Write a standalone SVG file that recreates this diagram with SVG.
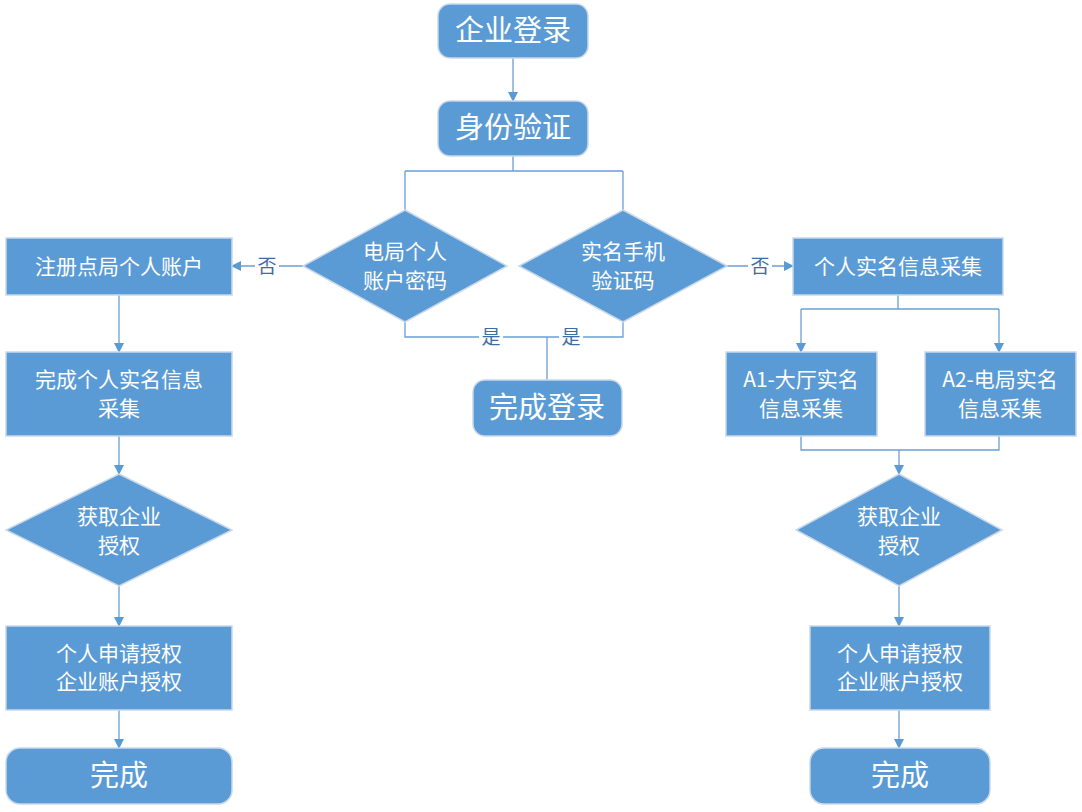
<svg xmlns="http://www.w3.org/2000/svg" width="1082" height="812" viewBox="0 0 1082 812">
<defs>
<style>
.n{fill:#5b9bd5;stroke:#c9d8ea;stroke-width:1.5}
.t{fill:#fff;font-family:"Microsoft YaHei","Noto Sans CJK SC",sans-serif;font-size:21px;text-anchor:middle}
.b{fill:#fff;font-family:"Noto Sans CJK SC",sans-serif;font-size:29px;text-anchor:middle}
.l{fill:#3b6ea5;font-family:"Noto Sans CJK SC",sans-serif;font-size:19px;text-anchor:middle}
.c{fill:none;stroke:#6a9fd6;stroke-width:1.3}
</style>
<marker id="a" markerWidth="10" markerHeight="10" refX="9" refY="5" orient="auto" markerUnits="userSpaceOnUse"><path d="M0,0 L10,5 L0,10 Z" fill="#5b9bd5"/></marker>
</defs>
<rect width="1082" height="812" fill="#fff"/>
<g id="connectors">
<path class="c" d="M513,58 V101" marker-end="url(#a)"/>
<path class="c" d="M513,156 V171 M405,171 H623 M405,171 V210 M623,171 V210"/>
<path class="c" d="M405,322 V337 H623 V322 M547,337 V380"/>
<path class="c" d="M303,266 H232" marker-end="url(#a)"/>
<path class="c" d="M727,266 H793" marker-end="url(#a)"/>
<path class="c" d="M119,295 V352" marker-end="url(#a)"/>
<path class="c" d="M119,436 V474" marker-end="url(#a)"/>
<path class="c" d="M119,586 V626" marker-end="url(#a)"/>
<path class="c" d="M119,710 V748" marker-end="url(#a)"/>
<path class="c" d="M898,295 V309 M801,309 H999"/>
<path class="c" d="M801,309 V352" marker-end="url(#a)"/>
<path class="c" d="M999,309 V352" marker-end="url(#a)"/>
<path class="c" d="M801,436 V450 H999 V436"/>
<path class="c" d="M899,450 V474" marker-end="url(#a)"/>
<path class="c" d="M899,586 V626" marker-end="url(#a)"/>
<path class="c" d="M899,710 V748" marker-end="url(#a)"/>
<rect x="255" y="256" width="24" height="22" fill="#fff"/>
<text class="l" x="267" y="273">否</text>
<rect x="748" y="256" width="24" height="22" fill="#fff"/>
<text class="l" x="760" y="273">否</text>
<rect x="479" y="326" width="24" height="22" fill="#fff"/>
<text class="l" x="491" y="344">是</text>
<rect x="559" y="326" width="24" height="22" fill="#fff"/>
<text class="l" x="571" y="344">是</text>
</g>
<g id="n1"><rect class="n" x="438" y="4" width="150" height="54" rx="12"/><text class="b" x="513" y="41">企业登录</text></g>
<g id="n2"><rect class="n" x="438" y="101" width="150" height="55" rx="12"/><text class="b" x="513" y="138">身份验证</text></g>
<g id="d1"><path class="n" d="M405,210 L507,266 L405,322 L303,266 Z"/><text class="t" x="405" y="259">电局个人</text><text class="t" x="405" y="288">账户密码</text></g>
<g id="d2"><path class="n" d="M623,210 L727,266 L623,322 L519,266 Z"/><text class="t" x="623" y="259">实名手机</text><text class="t" x="623" y="288">验证码</text></g>
<g id="n3"><rect class="n" x="473" y="380" width="149" height="56" rx="12"/><text class="b" x="547" y="418">完成登录</text></g>
<g id="l1"><rect class="n" x="6" y="238" width="226" height="57"/><text class="t" x="119" y="274">注册点局个人账户</text></g>
<g id="l2"><rect class="n" x="6" y="352" width="226" height="84"/><text class="t" x="119" y="387">完成个人实名信息</text><text class="t" x="119" y="416">采集</text></g>
<g id="l3"><path class="n" d="M119,474 L232,530 L119,586 L6,530 Z"/><text class="t" x="119" y="524">获取企业</text><text class="t" x="119" y="553">授权</text></g>
<g id="l4"><rect class="n" x="6" y="626" width="226" height="84"/><text class="t" x="119" y="661">个人申请授权</text><text class="t" x="119" y="689">企业账户授权</text></g>
<g id="l5"><rect class="n" x="6" y="748" width="226" height="56" rx="14"/><text class="b" x="119" y="786">完成</text></g>
<g id="r1"><rect class="n" x="793" y="238" width="210" height="57"/><text class="t" x="898" y="274">个人实名信息采集</text></g>
<g id="r2"><rect class="n" x="726" y="352" width="151" height="84"/><text class="t" x="801" y="387">A1-大厅实名</text><text class="t" x="801" y="416">信息采集</text></g>
<g id="r3"><rect class="n" x="925" y="352" width="151" height="84"/><text class="t" x="1000" y="387">A2-电局实名</text><text class="t" x="1000" y="416">信息采集</text></g>
<g id="r4"><path class="n" d="M899,474 L1002,530 L899,586 L796,530 Z"/><text class="t" x="899" y="524">获取企业</text><text class="t" x="899" y="553">授权</text></g>
<g id="r5"><rect class="n" x="810" y="626" width="180" height="84"/><text class="t" x="900" y="661">个人申请授权</text><text class="t" x="900" y="689">企业账户授权</text></g>
<g id="r6"><rect class="n" x="810" y="748" width="180" height="56" rx="14"/><text class="b" x="900" y="786">完成</text></g>
</svg>
